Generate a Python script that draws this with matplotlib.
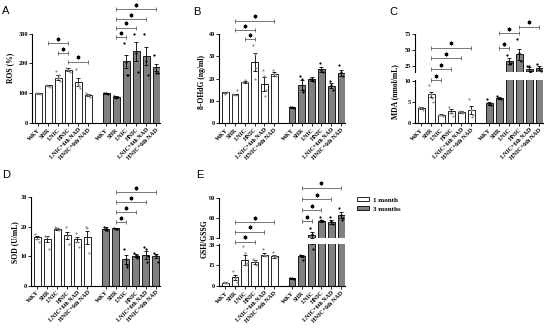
import matplotlib.pyplot as plt
from matplotlib.patches import Patch
from matplotlib.transforms import ScaledTranslation

W, H = 550, 329

groups = ["WKY", "SHR", "LNIC", "HNIC", "LNIC+6th NAD", "HNIC+6th NAD"]
legend_labels = ["1 month", "3 months"]

# A - ROS (%), first 6 = 1 month, last 6 = 3 months
ros_mean = [100, 126, 152, 178, 138, 95, 100, 87, 207, 240, 226, 187]
ros_sem = [2, 3, 8, 5, 14, 4, 2, 3, 22, 32, 30, 12]
ros_pts = [[100, 100, 99], [128, 125, 122], [175, 150, 140, 160], [185, 178, 170],
           [180, 130, 118, 125], [100, 95, 86],
           [101, 100, 99], [90, 85, 88], [267, 206, 161, 160], [300, 234, 172],
           [300, 208, 161], [228, 167, 168]]
ros_sig = [(1, 3, 268), (2, 3, 234), (3, 5, 206), (7, 8, 287), (7, 9, 320), (7, 10, 349), (7, 11, 382)]

# B - 8-OHdG (ng/ml)
ohdg_mean = [13.8, 12.9, 18.6, 27.5, 17.6, 22.1, 7.1, 17.1, 19.8, 24.2, 16.8, 22.4]
ohdg_sem = [0.3, 0.4, 0.5, 4, 3, 1, 0.2, 2.2, 0.8, 1.2, 1.2, 1.4]
ohdg_pts = [[13.5, 13.2, 13.8], [13, 12.5, 14.9], [18.5, 19.5, 18.4], [35, 31, 24.7, 20],
            [24, 21, 15, 12], [24, 22, 21],
            [7, 7.2, 6.8], [21, 20, 15, 14], [20, 19.5, 19, 20], [27, 24, 23],
            [19, 17, 15], [26, 23, 21]]
ohdg_sig = [(2, 3, 37.9), (1, 3, 42), (1, 5, 46.2)]

# C - MDA (nmol/mL)
mda_mean = [3.5, 6.8, 2.0, 2.9, 2.7, 3.1, 4.7, 6.0, 32.8, 43, 21, 21.4]
mda_sem = [0.2, 0.6, 0.2, 0.5, 0.2, 1.0, 0.3, 0.2, 4, 9, 3, 3]
mda_pts = [[3.8, 3.5, 3.2], [9, 7, 5, 6], [2, 1.8, 1.6], [3.8, 2.5, 1.7],
           [2.8, 2.6, 2.5], [5.7, 3, 2, 1.5],
           [5.8, 4.5, 4.2], [6.5, 6, 5.8], [42, 33, 30, 28], [67, 45, 32],
           [25, 25, 18, 16], [28, 22, 18]]
mda_sig = [(1, 2, 3.4), (1, 3, 19.9), (1, 4, 36.9), (1, 5, 53.3), (7, 8, 52.3), (7, 9, 75.5), (9, 11, 85.8)]

# D - SOD (U/mL)
sod_mean = [16.4, 15.9, 19.3, 17.2, 15.7, 16.5, 19.4, 19.5, 8.9, 10.1, 10.4, 10.1]
sod_sem = [0.6, 1.0, 0.3, 1.2, 0.8, 2.2, 0.4, 0.2, 1.5, 0.5, 1.5, 0.6]
sod_pts = [[17.5, 16, 15], [17, 16.5, 12.5], [19.8, 19.5, 19], [20, 17, 14],
           [18, 15, 13], [20, 19.5, 11],
           [20, 19.5, 19, 18.8], [19.6, 19.4, 19.2], [12.5, 9, 7, 6.5], [11, 10.5, 10, 9.5],
           [13, 12.5, 10, 8], [11, 10.5, 8]]
sod_sig = [(7, 8, 21.7), (7, 9, 24.9), (7, 10, 28.3), (7, 11, 31.7)]

# E - GSH/GSSG
gsh_mean = [2.4, 6.3, 19, 17.8, 22.9, 21.7, 5.6, 22, 35, 56, 54, 65]
gsh_sem = [0.3, 2, 4, 1.5, 1, 1, 0.3, 1, 4, 2, 3, 5]
gsh_pts = [[3, 2.5, 2], [11, 6, 3], [29, 24, 17, 15], [20, 18, 15],
           [27, 23, 22], [25, 22, 21],
           [6, 5.5, 5], [23, 22, 19], [45, 36, 27], [62, 57, 56],
           [62, 56, 52], [75, 65, 60, 58]]
gsh_sig = [(1, 3, 24.9), (1, 4, 39.9), (1, 5, 54.5), (7, 8, 56), (7, 9, 72.5), (7, 10, 89), (7, 11, 106)]

pos = [0, 1, 2, 3, 4, 5, 6.8, 7.8, 8.8, 9.8, 10.8, 11.8]
jit = [-0.17, 0.0, 0.17, 0.08]
SERIF = "Liberation Serif"

plt.rcParams['font.family'] = SERIF
plt.rcParams['font.weight'] = 'bold'

fig = plt.figure(figsize=(W / 100, H / 100), dpi=100)
star_shift = ScaledTranslation(0, 4.3 / 100, fig.dpi_scale_trans)


def px_axes(x0, x1, ybot, ytop):
    return fig.add_axes([x0 / W, 1 - ybot / H, (x1 - x0) / W, (ybot - ytop) / H])


def draw_bars(ax, mean, sem, pts):
    for k, x in enumerate(pos):
        grey = k >= 6
        ax.bar(x, mean[k], width=0.7, color='#808080' if grey else 'white',
               edgecolor='black', linewidth=0.6, zorder=2)
        ax.errorbar(x, mean[k], yerr=sem[k], color='black', elinewidth=0.6,
                    capsize=1.2, capthick=0.6, zorder=3)
        for j, v in enumerate(pts[k]):
            ax.plot(x + jit[j % 4], v, 'o', ms=1.6, mew=0,
                    color='black' if grey else '#909090', zorder=4)
    ax.set_xlim(-0.6, 12.2)


def style(ax, ticks, bounds, xlabels=True):
    for s in ['top', 'right']:
        ax.spines[s].set_visible(False)
    ax.spines['left'].set_linewidth(0.8)
    ax.spines['bottom'].set_linewidth(0.8)
    ax.spines['left'].set_bounds(*bounds)
    ax.set_yticks(ticks)
    ax.tick_params(length=2, width=0.6, labelsize=4.5, pad=1)
    if xlabels:
        ax.set_xticks(pos)
        ax.set_xticklabels(groups * 2, rotation=45, ha='right',
                           rotation_mode='anchor', fontsize=4.3, fontweight='bold')
    else:
        ax.spines['bottom'].set_visible(False)
        ax.set_xticks([])


def draw_sig(ax, sig):
    for i, j, y in sig:
        ax.plot([pos[i], pos[j]], [y, y], color='#606060', lw=0.6, clip_on=False, zorder=5)
        ax.plot([pos[i], pos[j]], [y, y], '|', color='#606060', ms=2.8, mew=0.6, clip_on=False)
        ax.plot((pos[i] + pos[j]) / 2, y, marker=(6, 2, 0), ms=2.6, mew=0.9, color='black',
                transform=ax.transData + star_shift, clip_on=False)


# A
ax = px_axes(32, 160, 123, 5)
draw_bars(ax, ros_mean, ros_sem, ros_pts)
ax.set_ylim(0, 396)
style(ax, [0, 100, 200, 300], (0, 300))
draw_sig(ax, ros_sig)

# B
ax = px_axes(219.3, 345, 123, 5)
draw_bars(ax, ohdg_mean, ohdg_sem, ohdg_pts)
ax.set_ylim(0, 53.2)
style(ax, [0, 10, 20, 30, 40], (0, 40))
draw_sig(ax, ohdg_sig)

# C (broken axis)
lo = px_axes(415, 543, 123, 80)
draw_bars(lo, mda_mean, mda_sem, mda_pts)
lo.set_ylim(0, 10.24)
style(lo, [0, 5, 10], (0, 10.24))
hi = px_axes(415, 543, 71.7, 5)
draw_bars(hi, mda_mean, mda_sem, mda_pts)
hi.set_ylim(16.2, 119.3)
style(hi, [25, 50, 75], (16.2, 75), xlabels=False)
draw_sig(hi, mda_sig)

# D
ax = px_axes(31, 160, 285.7, 180)
draw_bars(ax, sod_mean, sod_sem, sod_pts)
ax.set_ylim(0, 35.9)
style(ax, [0, 10, 20, 30], (0, 30))
draw_sig(ax, sod_sig)

# E (broken axis)
lo = px_axes(219.3, 345, 286, 244)
draw_bars(lo, gsh_mean, gsh_sem, gsh_pts)
lo.set_ylim(0, 30.7)
style(lo, [0, 15, 30], (0, 30.7))
hi = px_axes(219.3, 345, 238.3, 180)
draw_bars(hi, gsh_mean, gsh_sem, gsh_pts)
hi.set_ylim(30, 117.5)
style(hi, [30, 60, 90], (30, 90), xlabels=False)
draw_sig(hi, gsh_sig)

# y labels
for txt, x, y in [("ROS (%)", 10, 68), ("8-OHdG (ng/ml)", 201.5, 82), ("MDA (nmol/mL)", 395, 92),
                  ("SOD (U/mL)", 15, 242), ("GSH/GSSG", 205, 239)]:
    fig.text(x / W, 1 - y / H, txt, rotation=90, ha='center', va='center',
             fontsize=5.5, fontweight='bold')

# panel letters
for txt, x, y in [("A", 6, 11), ("B", 197, 12), ("C", 393, 12), ("D", 6, 175), ("E", 200, 175)]:
    fig.text(x / W, 1 - y / H, txt, ha='center', va='center', fontsize=8,
             family='Liberation Sans', fontweight='normal')

handles = [Patch(facecolor='white', edgecolor='black', linewidth=0.6),
           Patch(facecolor='#808080', edgecolor='black', linewidth=0.6)]
fig.legend(handles, legend_labels, loc='upper left', bbox_to_anchor=(354 / W, 1 - 194 / H),
           frameon=False, fontsize=5, handlelength=1.6, handleheight=0.5,
           handletextpad=0.6, labelspacing=0.5, borderpad=0)

fig.savefig('out.png', dpi=100)
